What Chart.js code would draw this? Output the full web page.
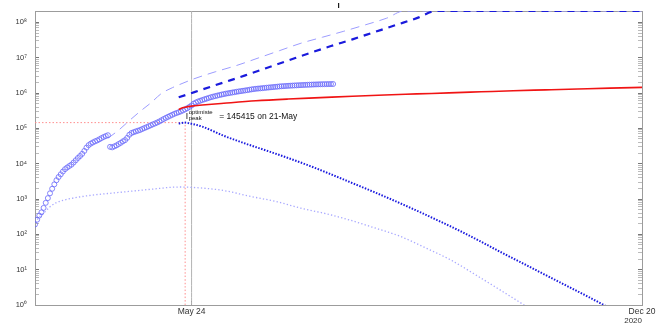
<!DOCTYPE html>
<html>
<head>
<meta charset="utf-8">
<script src="https://cdn.jsdelivr.net/npm/chart.js@4"></script>
<style>
  html, body { margin: 0; padding: 0; background: #fff; }
  canvas { display: block; }
</style>
</head>
<body>
<canvas id="chart" width="666" height="327"></canvas>
<script>
// days are counted as day-of-year 2020 (Mar 12 = 72, May 24 = 145, Dec 20 = 355)
const xMin = 72;
const xMax = 355;
const yMin = 1;
const yMax = 2.1e8;

const xTickDays = [145, 355];
const xTickLabels = ["May 24", "Dec 20"];
const yearLabel = "2020";
const yTickValues = [1, 10, 100, 1e3, 1e4, 1e5, 1e6, 1e7, 1e8];
const yTickLabels = ["10⁰", "10¹", "10²", "10³", "10⁴", "10⁵", "10⁶", "10⁷", "10⁸"];
const titleText = "I";

// observed cumulative cases, one value per day from obsStartDay
const obsStartDay = 72;
const obsCases = [
    190, 260, 340, 420, 560, 780, 1060, 1450, 1950, 2600,
    3400, 4200, 5000, 6000, 7000, 7800, 8600, 9400, 10800, 12500,
    14500, 16500, 19000, 23000, 28500, 33500, 37000, 40000, 43000, 45500,
    49000, 53000, 57000, 60500, 64000, 30000, 29000, 31000, 33000, 36000,
    39000, 43000, 46500, 54000, 66000, 74000, 78000, 82000, 86000, 90000,
    96000, 102000, 108000, 115000, 122000, 130000, 138000, 147000, 157000, 170000,
    184000, 198000, 212000, 227000, 242000, 258000, 272000, 286000, 302000, 322000,
    345000, 372000, 405000, 445000, 500000, 540000, 575000, 605000, 635000, 665000,
    695000, 728000, 760000, 790000, 820000, 848000, 878000, 905000, 932000, 960000,
    985000, 1010000, 1035000, 1060000, 1085000, 1110000, 1135000, 1160000, 1185000, 1210000,
    1240000, 1270000, 1295000, 1320000, 1340000, 1355000, 1375000, 1395000, 1415000, 1435000,
    1455000, 1475000, 1495000, 1515000, 1540000, 1555000, 1570000, 1585000, 1600000, 1615000,
    1625000, 1640000, 1650000, 1665000, 1675000, 1690000, 1700000, 1712000, 1722000, 1733000,
    1743000, 1752000, 1762000, 1770000, 1777000, 1783000, 1788000, 1793000, 1797000, 1800000
];

// optimistic cumulative projection (red)
const redDays = [139, 140, 142, 145, 150, 160, 175, 190, 205, 220, 235, 250, 265, 280, 295, 310, 325, 340, 355];
const redValues = [339000, 367000, 398000, 427000, 457000, 513000, 603000, 676000, 741000, 813000, 881000, 944000, 1012000, 1084000, 1161000, 1230000, 1303000, 1380000, 1445000];

// pessimistic cumulative projection (dark dashed)
const darkDashDays = [139, 150, 160, 170, 180, 190, 200, 210, 220, 230, 240, 250, 259, 355];
const darkDashValues = [758600, 1259000, 1995000, 3162000, 5129000, 8318000, 13490000, 21380000, 33110000, 52480000, 83180000, 131800000, 210000000, 210000000];

// earlier fit (light dashed)
const lightDashDays = [106, 111, 116, 121, 126, 131, 136, 141, 146, 156, 166, 176, 186, 196, 206, 216, 226, 236, 244, 355];
const lightDashValues = [52500, 89000, 166000, 302000, 525000, 977000, 1413000, 1905000, 2512000, 3981000, 6026000, 9772000, 15850000, 25700000, 38000000, 56200000, 85100000, 131800000, 210000000, 210000000];

// active infections, optimistic (dark dotted)
const darkDotDays = [139, 142, 145, 150, 160, 170, 180, 190, 200, 210, 220, 230, 240, 250, 260, 270, 280, 290, 300, 310, 320, 330, 340];
const darkDotValues = [138000, 145415, 135000, 112000, 61700, 37200, 23400, 14500, 8710, 5010, 2820, 1585, 871, 468, 245, 126, 61.7, 29.5, 14.5, 7.08, 3.47, 1.70, 0.81];

// active infections, earlier fit (light dotted)
const lightDotDays = [73, 75, 77, 79, 82, 85, 90, 95, 100, 105, 110, 115, 120, 125, 130, 135, 140, 145, 150, 160, 172, 185, 196, 208, 219, 230, 242, 254, 266, 277, 289, 300, 305];
const lightDotValues = [263, 355, 457, 603, 794, 912, 1072, 1202, 1318, 1413, 1514, 1622, 1738, 1862, 1995, 2138, 2188, 2138, 2042, 1738, 1202, 832, 550, 380, 251, 155, 89, 41.7, 18.6, 7.41, 2.63, 1.0, 0.63];

const peakDay = 142;
const peakValue = 145415;
const peakDateLabel = "21-May";
const peakSymbol = "I";
const peakSup = "optimiste";
const peakSub = "peak";
const todayDay = 145;

const FONT = '"Liberation Sans", Arial, Helvetica, sans-serif';

function pairs(days, values) {
    return days.map((d, i) => ({ x: d, y: values[i] }));
}

const yAllTicks = [];
yTickValues.forEach(m => {
    for (let k = 1; k <= 9; k++) {
        if (k * m <= yMax) yAllTicks.push(k * m);
    }
});

const peakLabelPlugin = {
    id: "peakLabel",
    afterDatasetsDraw(chart) {
        const { ctx, scales } = chart;
        const px = scales.x.getPixelForValue(peakDay);
        const py = scales.y.getPixelForValue(peakValue);
        ctx.save();
        ctx.fillStyle = "#111";
        ctx.textBaseline = "alphabetic";
        ctx.textAlign = "left";
        ctx.font = "8.5px " + FONT;
        ctx.fillText(peakSymbol, px + 0.5, py - 3.5);
        ctx.font = "6px " + FONT;
        ctx.fillText(peakSup, px + 3.5, py - 8.5);
        ctx.fillText(peakSub, px + 3.5, py - 3);
        ctx.font = "8.5px " + FONT;
        ctx.fillText("= " + peakValue + " on " + peakDateLabel, px + 34, py - 4);
        ctx.restore();
    }
};

function lineSet(data, color, width, dash) {
    return {
        data: data,
        borderColor: color,
        borderWidth: width,
        borderDash: dash,
        pointRadius: 0,
        fill: false,
        cubicInterpolationMode: "monotone"
    };
}

function fixVertical(width) {
    return s => {
        s.width = width;
        s.paddingTop = 0;
        s.paddingBottom = 0;
    };
}

new Chart(document.getElementById("chart"), {
    type: "line",
    data: {
        datasets: [
            lineSet(pairs(redDays, redValues), "#f01414", 1.6, []),
            lineSet(pairs(darkDashDays, darkDashValues), "#1a1adc", 2.2, [7, 6]),
            lineSet(pairs(darkDotDays, darkDotValues), "#1a1adf", 2, [1.5, 1.5]),
            {
                data: pairs(obsCases.map((v, i) => obsStartDay + i), obsCases),
                showLine: false,
                pointStyle: "circle",
                pointRadius: 2.5,
                pointBorderWidth: 1,
                pointBorderColor: "rgba(105, 105, 250, 0.8)",
                pointBackgroundColor: "rgba(0,0,0,0)"
            },
            lineSet(pairs(lightDashDays, lightDashValues), "#9c9cff", 1, [9, 6]),
            lineSet(pairs(lightDotDays, lightDotValues), "#a8a8ff", 1.3, [1.3, 2.2]),
            lineSet([{ x: xMin, y: peakValue }, { x: peakDay, y: peakValue }], "#ff8e8e", 1, [1.5, 2]),
            lineSet([{ x: peakDay, y: yMin }, { x: peakDay, y: peakValue }], "#ff8e8e", 1, [1.5, 2]),
            lineSet([{ x: todayDay, y: yMin }, { x: todayDay, y: yMax }], "#b4b4b4", 1, [])
        ]
    },
    options: {
        responsive: false,
        animation: false,
        devicePixelRatio: 1,
        layout: { padding: 0 },
        plugins: {
            legend: { display: false },
            tooltip: { enabled: false },
            title: {
                display: true,
                text: titleText,
                fullSize: false,
                color: "#111",
                font: { family: FONT, size: 8, weight: "bold", lineHeight: 1 },
                padding: { top: 2, bottom: 1 }
            }
        },
        scales: {
            x: {
                type: "linear",
                position: "bottom",
                min: xMin,
                max: xMax,
                afterBuildTicks: s => { s.ticks = xTickDays.map(v => ({ value: v })); },
                afterFit: s => { s.height = 22; },
                ticks: {
                    autoSkip: false,
                    maxRotation: 0,
                    padding: 6,
                    color: "#333",
                    font: { family: FONT, size: 8.5 },
                    callback: (v, i) => xTickLabels[i]
                },
                title: {
                    display: true,
                    text: yearLabel,
                    align: "end",
                    color: "#333",
                    font: { family: FONT, size: 8 },
                    padding: { top: 0, bottom: 1.5 }
                },
                grid: { drawOnChartArea: false, tickLength: -4, tickColor: "#777" },
                border: { color: "#9c9c9c", width: 1 }
            },
            x2: {
                type: "linear",
                position: "top",
                min: xMin,
                max: xMax,
                afterFit: s => { s.height = 0; },
                ticks: { display: false },
                grid: { display: false },
                border: { color: "#9c9c9c", width: 1 }
            },
            y: {
                type: "logarithmic",
                position: "left",
                min: yMin,
                max: yMax,
                afterBuildTicks: s => { s.ticks = yAllTicks.map(v => ({ value: v })); },
                afterFit: fixVertical(35),
                ticks: {
                    autoSkip: false,
                    padding: 12,
                    color: "#333",
                    font: { family: FONT, size: 7.5 },
                    callback: v => {
                        const i = yTickValues.indexOf(v);
                        return i >= 0 ? yTickLabels[i] : "";
                    }
                },
                grid: {
                    drawOnChartArea: false,
                    tickLength: -4,
                    tickColor: c => (c.tick && yTickValues.includes(c.tick.value)) ? "#777" : "#bbb"
                },
                border: { color: "#9c9c9c", width: 1 }
            },
            y2: {
                type: "logarithmic",
                position: "right",
                min: yMin,
                max: yMax,
                afterBuildTicks: s => { s.ticks = yAllTicks.map(v => ({ value: v })); },
                afterFit: fixVertical(24),
                ticks: { autoSkip: false, padding: 0, callback: () => "" },
                grid: {
                    drawOnChartArea: false,
                    tickLength: -4,
                    tickColor: c => (c.tick && yTickValues.includes(c.tick.value)) ? "#777" : "#bbb"
                },
                border: { color: "#9c9c9c", width: 1 }
            }
        }
    },
    plugins: [peakLabelPlugin]
});
</script>
</body>
</html>
